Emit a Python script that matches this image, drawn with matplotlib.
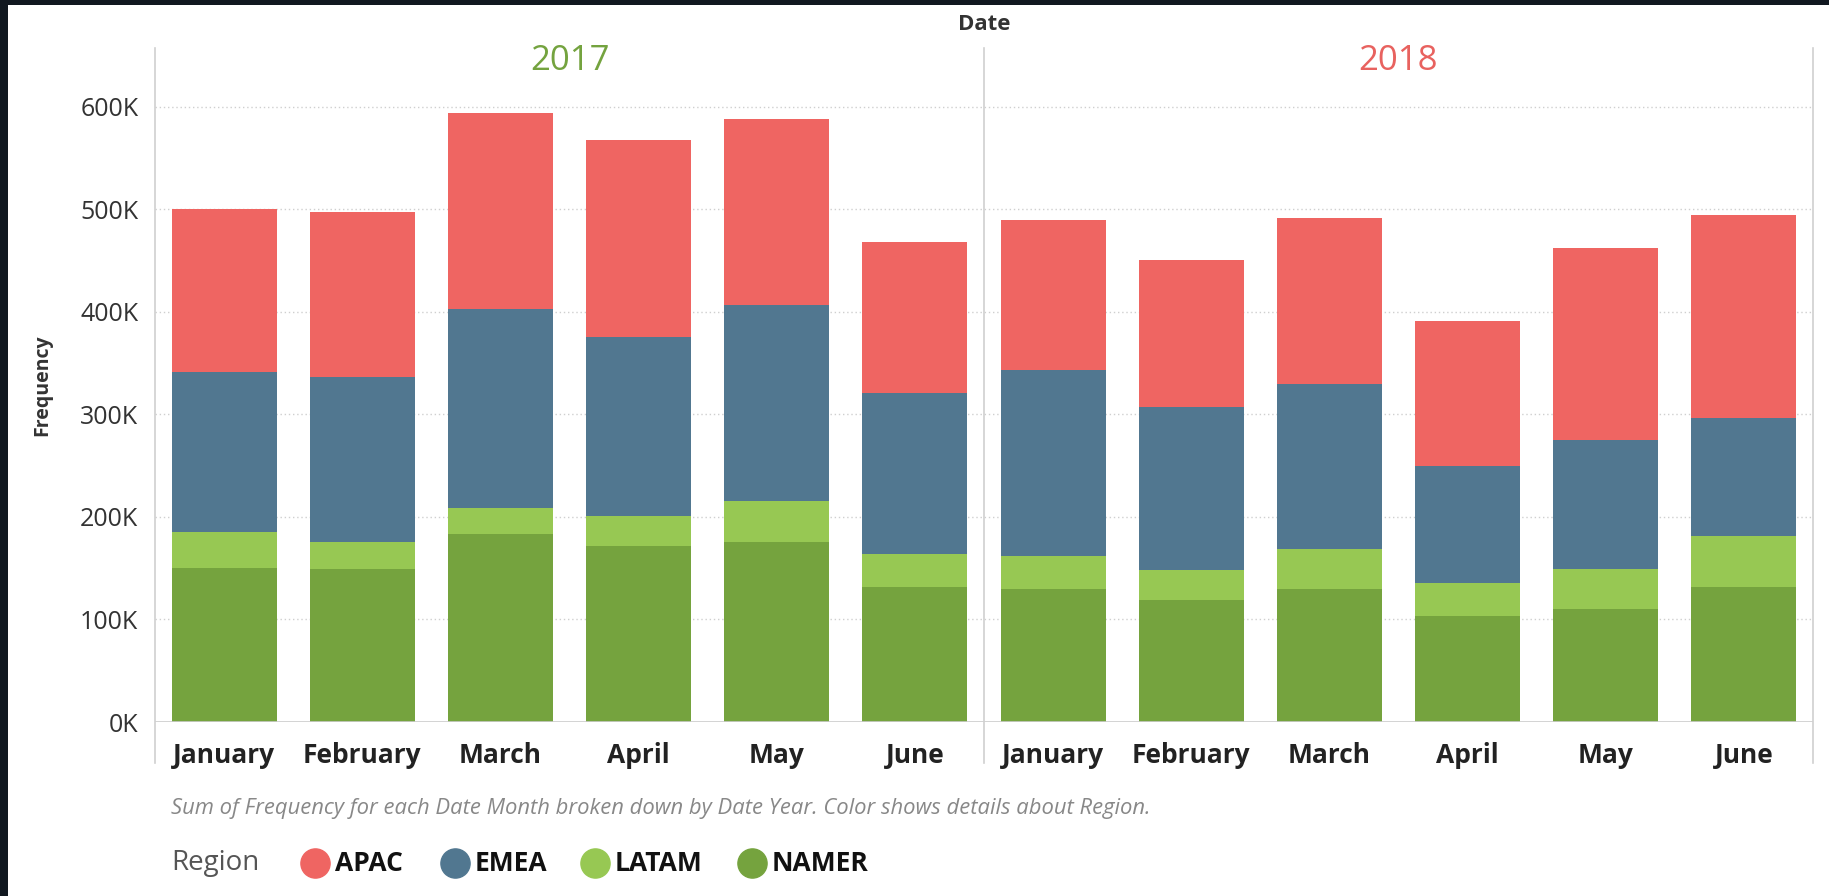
import matplotlib
matplotlib.use("Agg")
import matplotlib.pyplot as plt
from matplotlib.patches import Rectangle
from matplotlib.lines import Line2D
import numpy as np

# ---- data ----
years = ["2017", "2018"]
months = ["January", "February", "March", "April", "May", "June"]
regions = ["APAC", "EMEA", "LATAM", "NAMER"]
# values per (year, month) in order 2017 Jan..Jun, 2018 Jan..Jun
namer = [150000, 149000, 183000, 172000, 176000, 132000,
         130000, 119000, 130000, 103000, 110000, 132000]
latam = [35000, 27000, 26000, 29000, 40000, 32000,
         32000, 29000, 39000, 33000, 39000, 49000]
emea = [156000, 161000, 194000, 175000, 191000, 157000,
        181000, 159000, 161000, 114000, 126000, 116000]
apac = [159000, 161000, 191000, 192000, 181000, 147000,
        147000, 144000, 162000, 141000, 187000, 198000]

colors = {"APAC": "#ef6562", "EMEA": "#517790", "LATAM": "#97c853", "NAMER": "#75a33e"}
year_colors = ["#74a33f", "#e8625f"]

plt.rcParams['font.family'] = ['Open Sans', 'DejaVu Sans']

W, H = 1829, 896
fig = plt.figure(figsize=(W / 100, H / 100), dpi=100, facecolor="#111820")
fig.patches.append(Rectangle((8 / W, 0), 1 - 8 / W, 1 - 5 / H, transform=fig.transFigure,
                             facecolor="white", edgecolor="none", zorder=-10))

left, right, top, bottom = 155, 1813, 48, 722
ax = fig.add_axes([left / W, (H - bottom) / H, (right - left) / W, (bottom - top) / H])
ax.set_facecolor("none")

n = len(years) * len(months)
x = np.arange(n)
bw = 0.76
series = [("NAMER", namer), ("LATAM", latam), ("EMEA", emea), ("APAC", apac)]
base = np.zeros(n)
for name, vals in series:
    vals = np.array(vals, dtype=float)
    ax.bar(x, vals, bw, bottom=base, color=colors[name], linewidth=0, zorder=3)
    base += vals

ax.set_xlim(-0.5, n - 0.5)
ax.set_ylim(0, 657500)
for s in ax.spines.values():
    s.set_visible(False)

yt = [0, 100000, 200000, 300000, 400000, 500000, 600000]
ax.set_yticks(yt)
ax.set_yticklabels([f"{v // 1000}K" for v in yt], fontsize=18, color="#333333")
ax.tick_params(axis="y", length=0, pad=12)
for v in yt[1:]:
    ax.axhline(v, color="#cfcfcf", lw=1, linestyle=(0, (1, 2)), zorder=1)
ax.axhline(0, color="#cccccc", lw=1.2, zorder=4)

ax.set_xticks(x)
ax.set_xticklabels(months * len(years), fontsize=19, fontweight="bold", color="#222222")
ax.tick_params(axis="x", length=0, pad=14.5)

ext = -(763 - 722) / (bottom - top)
for xv in [-0.5, 5.5, 11.5]:
    ax.axvline(xv, ymin=ext, ymax=1, color="#d0d0d0", lw=1.2, clip_on=False, zorder=4)

for i, (yr, c) in enumerate(zip(years, year_colors)):
    ax.text(i * len(months) + (len(months) - 1) / 2, 1 - (61 - top) / (bottom - top), yr,
            transform=ax.get_xaxis_transform(), ha="center", va="center",
            fontsize=25, color=c)

fig.text((left + right) / 2 / W, 1 - 25 / H, "Date", ha="center", va="center",
         fontsize=16, fontweight="bold", color="#333333")
ax.set_ylabel("Frequency", fontsize=14, fontweight="bold", color="#333333")
ax.yaxis.set_label_coords(-(155 - 52) / (right - left), 0.5)

fig.text(171 / W, 1 - 808 / H,
         "Sum of Frequency for each Date Month broken down by Date Year. Color shows details about Region.",
         ha="left", va="center", fontsize=15.8, style="italic", color="#888888")

fig.text(171 / W, 1 - 863 / H, "Region", ha="left", va="center", fontsize=20, color="#555555")
cx = [315, 455, 595, 752]
for name, c in zip(regions, cx):
    fig.add_artist(Line2D([c / W], [1 - 863 / H], marker="o", markersize=21,
                          color=colors[name], linestyle="none", transform=fig.transFigure))
    fig.text((c + 20) / W, 1 - 863 / H, name, ha="left", va="center", fontsize=19,
             fontweight="bold", color="#111111")

fig.savefig("out.png", dpi=100, facecolor=fig.get_facecolor())
